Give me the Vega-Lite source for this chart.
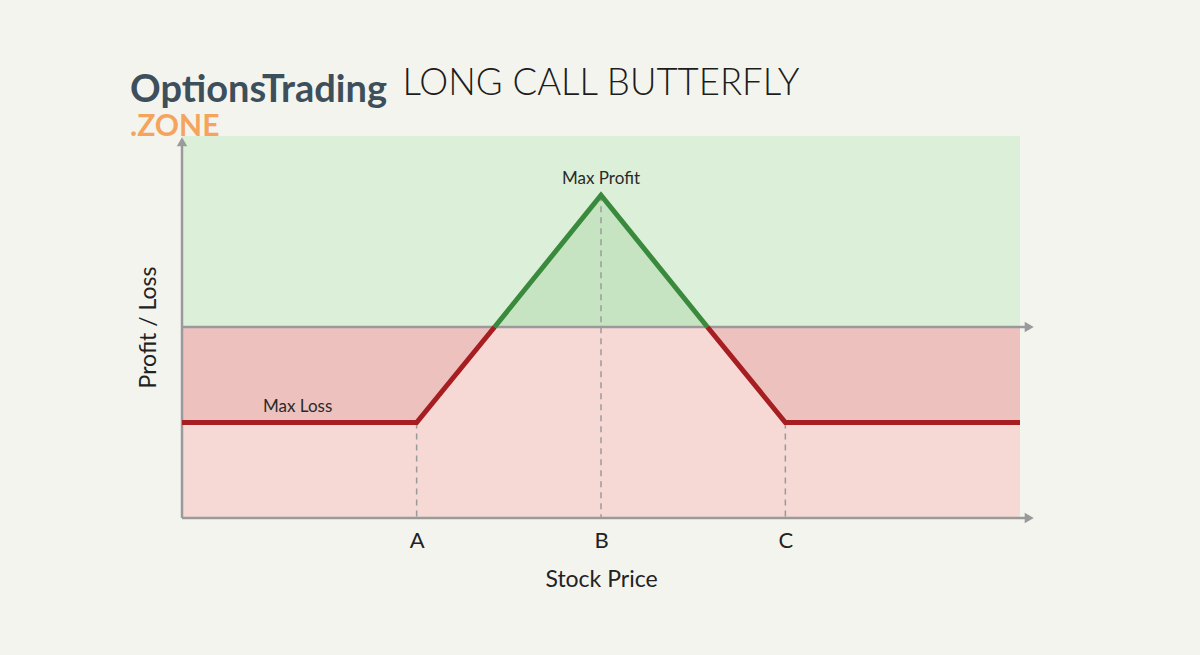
{
  "$schema": "https://vega.github.io/schema/vega-lite/v6.json",
  "width": 838,
  "height": 382,
  "autosize": {"type": "none"},
  "padding": {"left": 182, "top": 136, "right": 180, "bottom": 137},
  "background": "#f4f4ef",
  "config": {"view": {"stroke": null}, "font": "Lato"},
  "datasets": {
    "payoff": [
      {"part": "lossL", "kind": "loss", "x": 0, "y": -1},
      {"part": "lossL", "kind": "loss", "x": 28, "y": -1},
      {"part": "lossL", "kind": "loss", "x": 37.3, "y": 0},
      {"part": "profit", "kind": "profit", "x": 37.3, "y": 0},
      {"part": "profit", "kind": "profit", "x": 50, "y": 1.38},
      {"part": "profit", "kind": "profit", "x": 62.7, "y": 0},
      {"part": "lossR", "kind": "loss", "x": 62.7, "y": 0},
      {"part": "lossR", "kind": "loss", "x": 72, "y": -1},
      {"part": "lossR", "kind": "loss", "x": 100, "y": -1}
    ],
    "strikes": [
      {"strike": "A", "x": 28, "y": -1},
      {"strike": "B", "x": 50, "y": 1.38},
      {"strike": "C", "x": 72, "y": -1}
    ],
    "notes": [
      {"label": "Max Loss", "x": 13.8, "y": -1},
      {"label": "Max Profit", "x": 50, "y": 1.38}
    ]
  },
  "layer": [
    {
      "data": {"values": [{"zone": "profit"}]},
      "mark": {"type": "rect", "color": "#dcefd8"},
      "encoding": {
        "x": {"datum": 0, "type": "quantitative", "scale": {"domain": [0, 100], "nice": false, "zero": false},
          "axis": {"values": [28, 50, 72], "labelExpr": "datum.value == 28 ? 'A' : datum.value == 50 ? 'B' : 'C'",
            "labelFontSize": 22, "labelColor": "#222", "labelPadding": 12, "ticks": false, "domain": false, "grid": false,
            "title": "Stock Price", "titleFontSize": 23, "titleFontWeight": "normal", "titleColor": "#222", "titlePadding": 17}},
        "x2": {"datum": 100},
        "y": {"datum": 0, "type": "quantitative", "scale": {"domain": [-2, 2], "nice": false, "zero": false},
          "axis": {"labels": false, "ticks": false, "domain": false, "grid": false,
            "title": "Profit / Loss", "titleFontSize": 23, "titleFontWeight": "normal", "titleColor": "#222", "titlePadding": 22}},
        "y2": {"datum": 2}
      }
    },
    {
      "data": {"values": [{"zone": "loss"}]},
      "mark": {"type": "rect", "color": "#f6d8d5"},
      "encoding": {
        "x": {"datum": 0, "type": "quantitative"},
        "x2": {"datum": 100},
        "y": {"datum": -2, "type": "quantitative"},
        "y2": {"datum": 0}
      }
    },
    {
      "data": {"name": "payoff"},
      "mark": {"type": "area", "opacity": 1},
      "encoding": {
        "x": {"field": "x", "type": "quantitative"},
        "y": {"field": "y", "type": "quantitative"},
        "y2": {"datum": 0},
        "detail": {"field": "part"},
        "color": {"field": "kind", "type": "nominal", "scale": {"domain": ["loss", "profit"], "range": ["#edc1bd", "#c6e4c2"]}, "legend": null}
      }
    },
    {
      "data": {"name": "strikes"},
      "mark": {"type": "rule", "color": "#9a9a9a", "strokeWidth": 1.5, "strokeDash": [6, 5]},
      "encoding": {
        "x": {"field": "x", "type": "quantitative"},
        "y": {"field": "y", "type": "quantitative"},
        "y2": {"datum": -2}
      }
    },
    {
      "data": {"values": [{"axis": "x", "x": 0, "x2": 101, "y": -2}, {"axis": "zero", "x": 0, "x2": 101, "y": 0}]},
      "mark": {"type": "rule", "color": "#9a9a9a", "strokeWidth": 2.5},
      "encoding": {
        "x": {"field": "x", "type": "quantitative"},
        "x2": {"field": "x2"},
        "y": {"field": "y", "type": "quantitative"}
      }
    },
    {
      "data": {"values": [{"axis": "y", "x": 0, "y": -2, "y2": 1.93}]},
      "mark": {"type": "rule", "color": "#9a9a9a", "strokeWidth": 2.5},
      "encoding": {
        "x": {"field": "x", "type": "quantitative"},
        "y": {"field": "y", "type": "quantitative"},
        "y2": {"field": "y2"}
      }
    },
    {
      "data": {"values": [{"axis": "x", "x": 101.1, "y": -2}, {"axis": "zero", "x": 101.1, "y": 0}]},
      "mark": {"type": "point", "shape": "triangle-right", "filled": true, "color": "#9a9a9a", "size": 110, "opacity": 1},
      "encoding": {
        "x": {"field": "x", "type": "quantitative"},
        "y": {"field": "y", "type": "quantitative"}
      }
    },
    {
      "data": {"values": [{"axis": "y", "x": 0, "y": 1.94}]},
      "mark": {"type": "point", "shape": "triangle-up", "filled": true, "color": "#9a9a9a", "size": 110, "opacity": 1},
      "encoding": {
        "x": {"field": "x", "type": "quantitative"},
        "y": {"field": "y", "type": "quantitative"}
      }
    },
    {
      "data": {"name": "payoff"},
      "mark": {"type": "line", "strokeWidth": 5, "strokeJoin": "miter", "strokeCap": "butt"},
      "encoding": {
        "x": {"field": "x", "type": "quantitative"},
        "y": {"field": "y", "type": "quantitative"},
        "detail": {"field": "part"},
        "color": {"field": "kind", "type": "nominal", "scale": {"domain": ["loss", "profit"], "range": ["#a61d22", "#3a8a3e"]}, "legend": null}
      }
    },
    {
      "data": {"name": "notes"},
      "mark": {"type": "text", "fontSize": 17, "color": "#2a2a2a", "dy": -11, "baseline": "alphabetic", "font": "Lato"},
      "encoding": {
        "x": {"field": "x", "type": "quantitative"},
        "y": {"field": "y", "type": "quantitative"},
        "text": {"field": "label"}
      }
    },
    {
      "data": {"values": [{"heading": "LONG CALL BUTTERFLY", "x": 26.3, "y": 2.43}]},
      "mark": {"type": "text", "fontSize": 36.5, "fontWeight": 300, "color": "#1c1c1c", "align": "left", "baseline": "alphabetic", "font": "Lato"},
      "encoding": {
        "x": {"field": "x", "type": "quantitative"},
        "y": {"field": "y", "type": "quantitative"},
        "text": {"field": "heading"}
      }
    },
    {
      "data": {"values": [{"brand": "OptionsTrading", "x": -6.2, "y": 2.36}]},
      "mark": {"type": "text", "fontSize": 38, "fontWeight": "bold", "color": "#3e4f5c", "align": "left", "baseline": "alphabetic", "font": "Lato"},
      "encoding": {
        "x": {"field": "x", "type": "quantitative"},
        "y": {"field": "y", "type": "quantitative"},
        "text": {"field": "brand"}
      }
    },
    {
      "data": {"values": [{"brand": ".ZONE", "x": -6.2, "y": 2.0}]},
      "mark": {"type": "text", "fontSize": 30, "fontWeight": "bold", "color": "#f5a45e", "align": "left", "baseline": "alphabetic", "font": "Lato"},
      "encoding": {
        "x": {"field": "x", "type": "quantitative"},
        "y": {"field": "y", "type": "quantitative"},
        "text": {"field": "brand"}
      }
    }
  ],
  "resolve": {"scale": {"color": "independent"}}
}
